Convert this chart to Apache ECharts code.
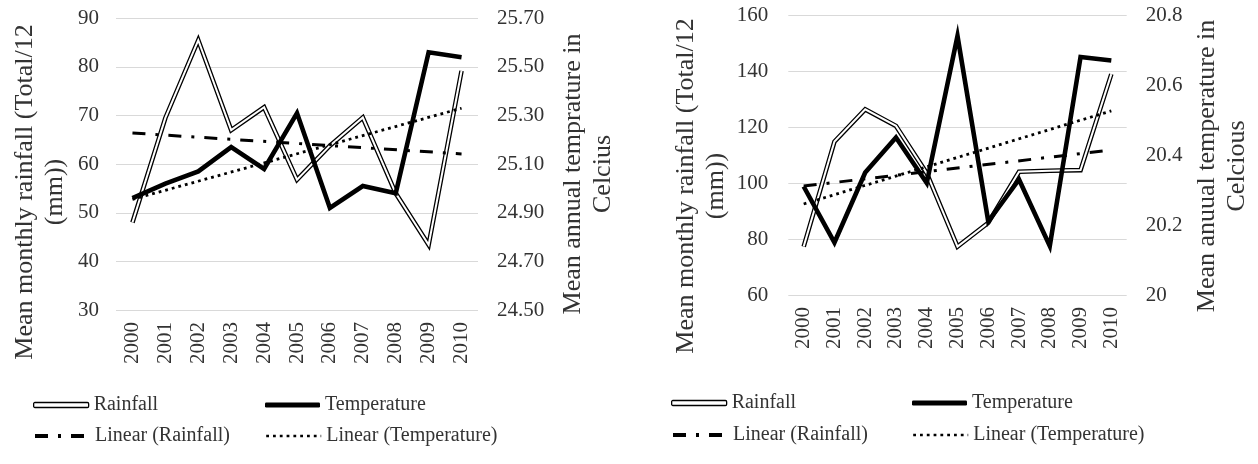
<!DOCTYPE html>
<html><head><meta charset="utf-8">
<script src="https://cdn.jsdelivr.net/npm/echarts@6/dist/echarts.min.js"></script>
<style>
html,body{margin:0;padding:0;background:#fff;}
#wrap{width:1258px;height:464px;display:flex;}
.c{width:629px;height:464px;}
</style>
</head><body>
<div id="wrap"><div id="a" class="c"></div><div id="b" class="c"></div></div>
<script>
// ---- data ----
const years = ['2000','2001','2002','2003','2004','2005','2006','2007','2008','2009','2010'];

// left panel
const rainfallA     = [48.0, 69.5, 85.5, 67.0, 71.7, 56.8, 63.8, 69.6, 54.0, 43.4, 79.2];
const temperatureA  = [24.96, 25.02, 25.07, 25.17, 25.08, 25.31, 24.92, 25.01, 24.98, 25.56, 25.54];
const rainTrendA    = [66.4, 62.1];     // trend values at first and last year
const tempTrendA    = [24.955, 25.33];

// right panel
const rainfallB     = [77.3, 114.8, 126.3, 120.4, 103.5, 77.3, 85.8, 104.0, 104.4, 104.6, 138.9];
const temperatureB  = [20.31, 20.15, 20.35, 20.45, 20.32, 20.74, 20.21, 20.33, 20.14, 20.68, 20.67];
const rainTrendB    = [98.9, 111.8];
const tempTrendB    = [20.26, 20.526];

// axis ranges / tick steps
const leftAxisA  = {min: 30, max: 90, step: 10};
const rightAxisA = {min: 24.5, max: 25.7, step: 0.2};
const leftAxisB  = {min: 60, max: 160, step: 20};
const rightAxisB = {min: 20, max: 20.8, step: 0.2};

const FONT = '"Liberation Serif", "Times New Roman", serif';
const TXT = '#333';
const HIDE = {color: 'rgba(0,0,0,0)', borderColor: 'rgba(0,0,0,0)', borderWidth: 0, opacity: 0};

function trendData(v) {
  return [[0, v[0]], [years.length - 1, v[1]]];
}

function legendItem(item, left, top, h) {
  return {
    data: [item], left: left, top: top, orient: 'vertical', padding: 0,
    itemWidth: 55, itemHeight: h, selectedMode: false,
    textStyle: {fontFamily: FONT, fontSize: 20, color: TXT}
  };
}

function build(cfg) {
  return {
    animation: false,
    backgroundColor: '#fff',
    grid: cfg.grid,
    xAxis: {
      type: 'category', data: years, boundaryGap: true,
      axisLine: {show: false}, axisTick: {show: false},
      axisLabel: {rotate: 90, margin: 12, fontFamily: FONT, fontSize: 21, color: TXT}
    },
    yAxis: [
      {
        type: 'value', min: cfg.la.min, max: cfg.la.max, interval: cfg.la.step,
        axisLine: {show: false}, axisTick: {show: false},
        splitLine: {show: true, lineStyle: {color: '#d9d9d9', width: 1}},
        axisLabel: {margin: cfg.lmargin, fontFamily: FONT, fontSize: 21, color: TXT}
      },
      {
        type: 'value', min: cfg.ra.min, max: cfg.ra.max, interval: cfg.ra.step, alignTicks: true,
        axisLine: {show: false}, axisTick: {show: false}, splitLine: {show: false},
        axisLabel: {margin: 19, fontFamily: FONT, fontSize: 21, color: TXT, formatter: cfg.rfmt}
      }
    ],
    legend: [
      legendItem({name: 'Rainfall', icon: 'roundRect', itemStyle: {color: '#fff', borderColor: '#000', borderWidth: 1.3}}, cfg.lg[0], cfg.lg[2], 5),
      legendItem({name: 'Temperature', icon: 'roundRect', itemStyle: {color: '#000'}}, cfg.lg[1], cfg.lg[2], 5),
      legendItem({name: 'Linear (Rainfall)', itemStyle: HIDE, lineStyle: {width: 4}}, cfg.lg[0], cfg.lg[3], 14),
      legendItem({name: 'Linear (Temperature)', itemStyle: HIDE, lineStyle: {width: 2.4}}, cfg.lg[1], cfg.lg[3], 14)
    ],
    graphic: [
      {type: 'text', x: cfg.lt[0], y: cfg.lt[1], rotation: Math.PI / 2,
       style: {text: cfg.ltext, font: '26px ' + FONT, fill: TXT, align: 'center', verticalAlign: 'middle', lineHeight: 30}},
      {type: 'text', x: cfg.rt[0], y: cfg.rt[1], rotation: Math.PI / 2,
       style: {text: cfg.rtext, font: '26px ' + FONT, fill: TXT, align: 'center', verticalAlign: 'middle', lineHeight: 30}}
    ],
    series: [
      {name: 'Rainfall outline', type: 'line', data: cfg.rain, yAxisIndex: 0, symbol: 'none',
       lineStyle: {color: '#000', width: 4.6, join: 'miter'}, silent: true},
      {name: 'Rainfall', type: 'line', data: cfg.rain, yAxisIndex: 0, symbol: 'none',
       lineStyle: {color: '#fff', width: 2, join: 'miter'}, itemStyle: {color: '#fff'}, silent: true},
      {name: 'Temperature', type: 'line', data: cfg.temp, yAxisIndex: 1, symbol: 'none',
       lineStyle: {color: '#000', width: 4.6, join: 'miter'}, itemStyle: {color: '#000'}, silent: true},
      {name: 'Linear (Rainfall)', type: 'line', data: trendData(cfg.rtrend), yAxisIndex: 0, symbol: 'none',
       lineStyle: {color: '#000', width: 3, type: [13, 10, 3, 10]}, itemStyle: {color: '#000'}, silent: true},
      {name: 'Linear (Temperature)', type: 'line', data: trendData(cfg.ttrend), yAxisIndex: 1, symbol: 'none',
       lineStyle: {color: '#000', width: 2.8, type: [2.8, 4]}, itemStyle: {color: '#000'}, silent: true}
    ]
  };
}

const chartA = echarts.init(document.getElementById('a'), null, {renderer: 'canvas'});
chartA.setOption(build({
  grid: {left: 116, right: 151, top: 18.3, bottom: 154},
  la: leftAxisA, ra: rightAxisA, lmargin: 17,
  rfmt: function (v) { return v.toFixed(2); },
  rain: rainfallA, temp: temperatureA, rtrend: rainTrendA, ttrend: tempTrendA,
  lg: [33, 265, 395, 426],
  lt: [40, 192], ltext: 'Mean monthly rainfall (Total/12\n(mm))',
  rt: [588, 174], rtext: 'Mean annual temprature in\nCelcius'
}));

const chartB = echarts.init(document.getElementById('b'), null, {renderer: 'canvas'});
chartB.setOption(build({
  grid: {left: 159.3, right: 131.3, top: 15, bottom: 169},
  la: leftAxisB, ra: rightAxisB, lmargin: 20,
  rfmt: function (v) { return String(Math.round(v * 10) / 10); },
  rain: rainfallB, temp: temperatureB, rtrend: rainTrendB, ttrend: tempTrendB,
  lg: [42, 283, 393, 425],
  lt: [72, 186], ltext: 'Mean monthly rainfall (Total/12\n(mm))',
  rt: [593, 166], rtext: 'Mean anuual temperature in\nCelcious'
}));
</script>
</body></html>
